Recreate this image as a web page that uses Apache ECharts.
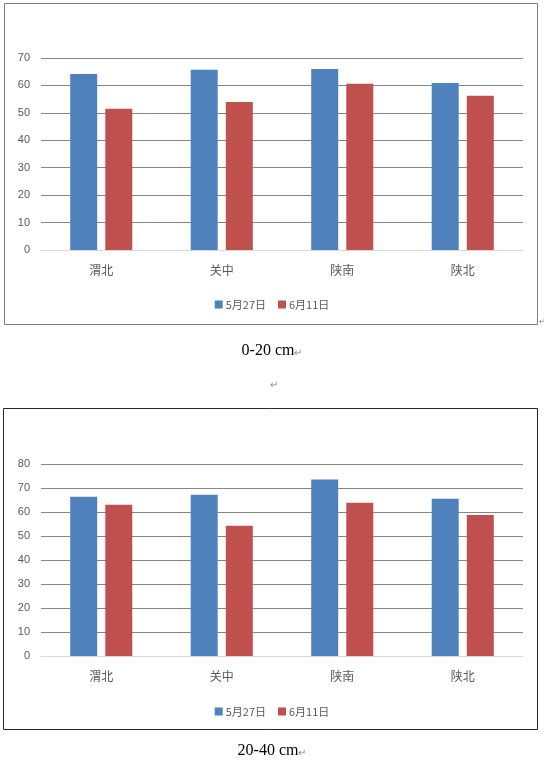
<!DOCTYPE html>
<html><head><meta charset="utf-8">
<script src="https://cdn.jsdelivr.net/npm/echarts@6/dist/echarts.min.js"></script>
<style>html,body{margin:0;padding:0;background:#fff}#c{width:544px;height:761px}</style>
</head><body><div id="c"></div>
<script>
var categories = ['渭北', '关中', '陕南', '陕北'];
var seriesNames = ['5月27日', '6月11日'];
var may27_0_20 = [64.2, 65.7, 66.0, 60.9];
var jun11_0_20 = [51.5, 54.0, 60.6, 56.2];
var may27_20_40 = [66.4, 67.2, 73.5, 65.5];
var jun11_20_40 = [63.0, 54.3, 63.9, 58.8];
var titles = ['0-20 cm', '20-40 cm'];
var yMax = [70, 80];

var chart = echarts.init(document.getElementById('c'), null, {renderer: 'canvas'});
var blue = '#4f81bd', red = '#c0504d';
var labelFont = '"Noto Sans CJK SC", "Microsoft YaHei", sans-serif';
function xAx(i) {
  return {type: 'category', gridIndex: i, data: categories,
    axisLine: {lineStyle: {color: '#d9d9d9', width: 1}}, axisTick: {show: false},
    axisLabel: {color: '#595959', fontSize: 12, margin: 14, fontFamily: labelFont}};
}
function yAx(i) {
  return {type: 'value', gridIndex: i, min: 0, max: yMax[i], interval: 10,
    axisLine: {show: false}, axisTick: {show: false},
    axisLabel: {color: '#595959', fontSize: 11, margin: 11, fontFamily: 'Liberation Sans, Arial, sans-serif'},
    splitLine: {lineStyle: {color: '#868686', width: 1}}};
}
function bar(name, data, color, i) {
  return {type: 'bar', name: name, data: data, xAxisIndex: i, yAxisIndex: i,
    barWidth: 27, barGap: '30%', itemStyle: {color: color}, silent: true};
}
function legend(i, top) {
  return {top: top, left: 'center', itemWidth: 8, itemHeight: 8, itemGap: 12,
    icon: 'rect', data: seriesNames,
    textStyle: {color: '#595959', fontSize: 11, fontFamily: labelFont, padding: [0, 0, 0, -2]}};
}
function titleText(t, top) {
  return {text: '{t|' + t + '}{r|↵}', left: 'center', top: top,
    textStyle: {fontWeight: 'normal', rich: {
      t: {fontFamily: '"Liberation Serif", "Times New Roman", serif', fontSize: 16, fontWeight: 'normal', color: '#000'},
      r: {fontSize: 10, color: '#888', fontWeight: 'normal', padding: [4, 0, 0, 0]}}}};
}
chart.setOption({
  animation: false,
  grid: [
    {left: 41, right: 21, top: 58, height: 192},
    {left: 41, right: 21, top: 464, height: 192}
  ],
  xAxis: [xAx(0), xAx(1)],
  yAxis: [yAx(0), yAx(1)],
  legend: [legend(0, 294), legend(1, 701)],
  title: [titleText(titles[0], 338), titleText(titles[1], 738)],
  series: [
    bar(seriesNames[0], may27_0_20, blue, 0),
    bar(seriesNames[1], jun11_0_20, red, 0),
    bar(seriesNames[0], may27_20_40, blue, 1),
    bar(seriesNames[1], jun11_20_40, red, 1)
  ],
  graphic: [
    {type: 'rect', shape: {x: 4.5, y: 3.5, width: 533, height: 321}, style: {fill: 'none', stroke: '#808080', lineWidth: 1}, silent: true},
    {type: 'rect', shape: {x: 3.5, y: 408.5, width: 534, height: 321}, style: {fill: 'none', stroke: '#262626', lineWidth: 1}, silent: true},
    {type: 'text', left: 270, top: 380, style: {text: '↵', fontSize: 10, fill: '#888'}, silent: true},
    {type: 'text', left: 539, top: 318, style: {text: '↵', fontSize: 8, fill: '#888'}, silent: true}
  ]
});
</script></body></html>
